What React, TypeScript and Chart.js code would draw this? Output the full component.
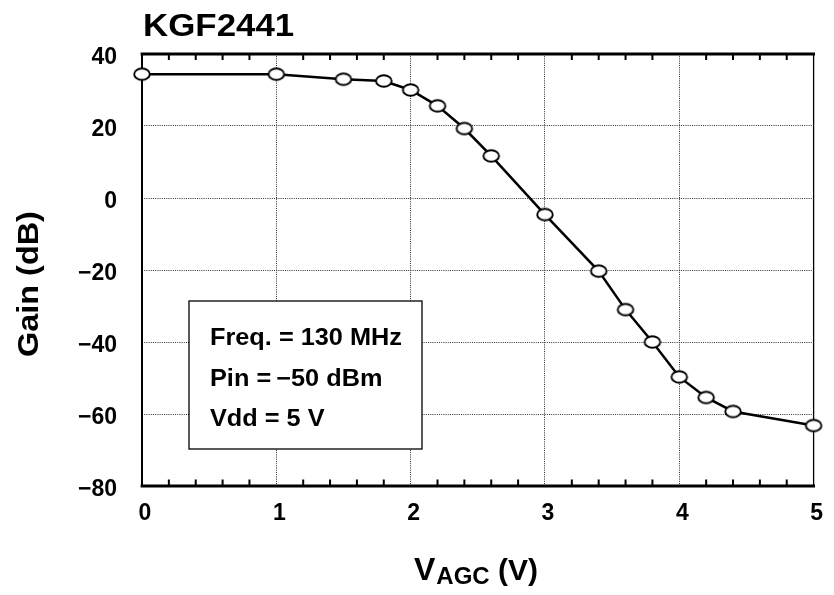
import React, { useEffect, useRef } from "react";
import { Chart, registerables } from "chart.js";

Chart.register(...registerables);

const TITLE = "KGF2441";
const VAGC = [0, 1, 1.5, 1.8, 2, 2.2, 2.4, 2.6, 3, 3.4, 3.6, 3.8, 4, 4.2, 4.4, 5];
const GAIN = [34.4, 34.4, 33.0, 32.5, 30.0, 25.6, 19.3, 11.7, -4.6, -20.3, -31.0, -40.0, -49.7, -55.4, -59.3, -63.2];
const X_TICKS = [0, 1, 2, 3, 4, 5];
const Y_TICKS = [40, 20, 0, -20, -40, -60, -80];
const MINOR_STEP = 0.2;
const NOTE_LINES = ["Freq. = 130 MHz", "Pin =\u2009\u221250 dBm", "Vdd = 5 V"];
const Y_TITLE = "Gain (dB)";
const X_TITLE_MAIN = "V";
const X_TITLE_SUB = "AGC";
const X_TITLE_UNIT = " (V)";

const FONT = "'Liberation Sans', Arial, Helvetica, sans-serif";
const W = 834;
const H = 595;

function makeEllipse(): HTMLCanvasElement {
  const c = document.createElement("canvas");
  c.width = 20;
  c.height = 16;
  const g = c.getContext("2d")!;
  g.fillStyle = "#fff";
  g.strokeStyle = "#000";
  g.lineWidth = 1.9;
  g.beginPath();
  g.ellipse(10, 8, 7.8, 5.8, 0, 0, Math.PI * 2);
  g.fill();
  g.stroke();
  return c;
}

function wideText(ctx: CanvasRenderingContext2D, text: string, x: number, y: number, sx: number) {
  ctx.save();
  ctx.translate(x, y);
  ctx.scale(sx, 1);
  ctx.fillText(text, 0, 0);
  ctx.restore();
}

const decorPlugin = {
  id: "decor",
  beforeDatasetsDraw(chart: any) {
    const { ctx, chartArea } = chart;
    const { left, right, top, bottom } = chartArea;
    const x = chart.scales.x;
    ctx.save();

    // note box
    const bx = 189, by = 301, bw = 233, bh = 148;
    ctx.fillStyle = "#fff";
    ctx.fillRect(bx, by, bw, bh);
    ctx.strokeStyle = "#000";
    ctx.lineWidth = 1.3;
    ctx.strokeRect(bx, by, bw, bh);
    ctx.fillStyle = "#000";
    ctx.font = `bold 23px ${FONT}`;
    ctx.textAlign = "left";
    ctx.textBaseline = "alphabetic";
    NOTE_LINES.forEach((t, i) => wideText(ctx, t, 210, 345 + i * 40.5, 1.1));

    // minor ticks (top & bottom, inward)
    ctx.strokeStyle = "#000";
    ctx.lineWidth = 2;
    const n = Math.round((x.max - x.min) / MINOR_STEP);
    for (let i = 1; i < n; i++) {
      const v = x.min + i * MINOR_STEP;
      if (Math.abs(v - Math.round(v)) < 1e-6) continue;
      const px = x.getPixelForValue(v);
      ctx.beginPath();
      ctx.moveTo(px, top);
      ctx.lineTo(px, top + 6);
      ctx.moveTo(px, bottom);
      ctx.lineTo(px, bottom - 6.5);
      ctx.stroke();
    }

    // frame
    ctx.lineCap = "square";
    ctx.lineWidth = 1.3;
    ctx.beginPath();
    ctx.moveTo(right, top);
    ctx.lineTo(right, bottom);
    ctx.stroke();
    ctx.lineWidth = 2;
    ctx.beginPath();
    ctx.moveTo(left, top);
    ctx.lineTo(left, bottom);
    ctx.stroke();
    ctx.lineWidth = 2.8;
    ctx.beginPath();
    ctx.moveTo(left, top);
    ctx.lineTo(right, top);
    ctx.moveTo(left, bottom);
    ctx.lineTo(right, bottom);
    ctx.stroke();
    ctx.restore();
  },
  afterDraw(chart: any) {
    const { ctx } = chart;
    ctx.save();
    ctx.fillStyle = "#000";
    ctx.textBaseline = "alphabetic";
    ctx.textAlign = "left";
    // title
    ctx.font = `bold 32px ${FONT}`;
    wideText(ctx, TITLE, 143, 36, 1.09);

    // y title
    ctx.save();
    ctx.translate(30, 284);
    ctx.rotate(-Math.PI / 2);
    ctx.scale(1.08, 1);
    ctx.textAlign = "center";
    ctx.textBaseline = "middle";
    ctx.font = `bold 30px ${FONT}`;
    ctx.fillText(Y_TITLE, 0, 0);
    ctx.restore();

    // x title with subscript
    let cx = 414;
    ctx.font = `bold 32px ${FONT}`;
    ctx.fillText(X_TITLE_MAIN, cx, 580);
    cx += ctx.measureText(X_TITLE_MAIN).width + 1;
    ctx.font = `bold 24px ${FONT}`;
    ctx.fillText(X_TITLE_SUB, cx, 584);
    cx += ctx.measureText(X_TITLE_SUB).width;
    ctx.font = `bold 30px ${FONT}`;
    ctx.fillText(X_TITLE_UNIT, cx, 580);
    ctx.restore();
  },
};

export default function App() {
  const ref = useRef<HTMLCanvasElement | null>(null);

  useEffect(() => {
    if (!ref.current) return;
    const ellipse = makeEllipse();
    const gridCol = "#2e2e2e";
    const edgeX = (c: any) =>
      c.tick && (c.tick.value === X_TICKS[0] || c.tick.value === X_TICKS[X_TICKS.length - 1]) ? "rgba(0,0,0,0)" : gridCol;
    const edgeY = (c: any) =>
      c.tick && (c.tick.value === Y_TICKS[0] || c.tick.value === Y_TICKS[Y_TICKS.length - 1]) ? "rgba(0,0,0,0)" : gridCol;
    const fmt = (v: number) => (v < 0 ? "\u2212" + Math.abs(v) : String(v));

    const chart = new Chart(ref.current, {
      type: "line",
      data: {
        datasets: [
          {
            data: VAGC.map((x, i) => ({ x, y: GAIN[i] })),
            borderColor: "#000",
            borderWidth: 2.5,
            pointStyle: ellipse as any,
            pointRadius: 8,
            tension: 0,
            clip: false as any,
          },
        ],
      },
      options: {
        responsive: false,
        maintainAspectRatio: false,
        animation: false,
        layout: { padding: { top: 54, right: 15, left: 0, bottom: 0 } },
        plugins: { legend: { display: false }, tooltip: { enabled: false } },
        scales: {
          x: {
            type: "linear",
            min: X_TICKS[0],
            max: X_TICKS[X_TICKS.length - 1],
            afterBuildTicks: (s: any) => {
              s.ticks = X_TICKS.map((v) => ({ value: v }));
            },
            afterFit: (s: any) => {
              s.height = 109;
            },
            grid: { color: edgeX, lineWidth: 1, drawTicks: false },
            border: { display: false, dash: [1, 1.2] },
            ticks: {
              padding: 14,
              labelOffset: 3,
              color: "#000",
              font: { family: FONT, size: 23, weight: "bold" },
              callback: (v: any) => fmt(Number(v)),
              maxRotation: 0,
            },
          },
          y: {
            type: "linear",
            min: Y_TICKS[Y_TICKS.length - 1],
            max: Y_TICKS[0],
            afterBuildTicks: (s: any) => {
              s.ticks = Y_TICKS.slice().reverse().map((v) => ({ value: v }));
            },
            afterFit: (s: any) => {
              s.width = 142;
            },
            grid: { color: edgeY, lineWidth: 1, drawTicks: false },
            border: { display: false, dash: [1, 1.2] },
            ticks: {
              padding: 25,
              labelOffset: 4,
              color: "#000",
              font: { family: FONT, size: 23, weight: "bold" },
              callback: (v: any) => fmt(Number(v)),
            },
          },
        },
      },
      plugins: [decorPlugin],
    });
    return () => chart.destroy();
  }, []);

  return (
    <div style={{ position: "absolute", left: 0, top: 0, width: W, height: H, background: "#fff" }}>
      <canvas ref={ref} width={W} height={H} style={{ display: "block", width: W, height: H }} />
    </div>
  );
}
